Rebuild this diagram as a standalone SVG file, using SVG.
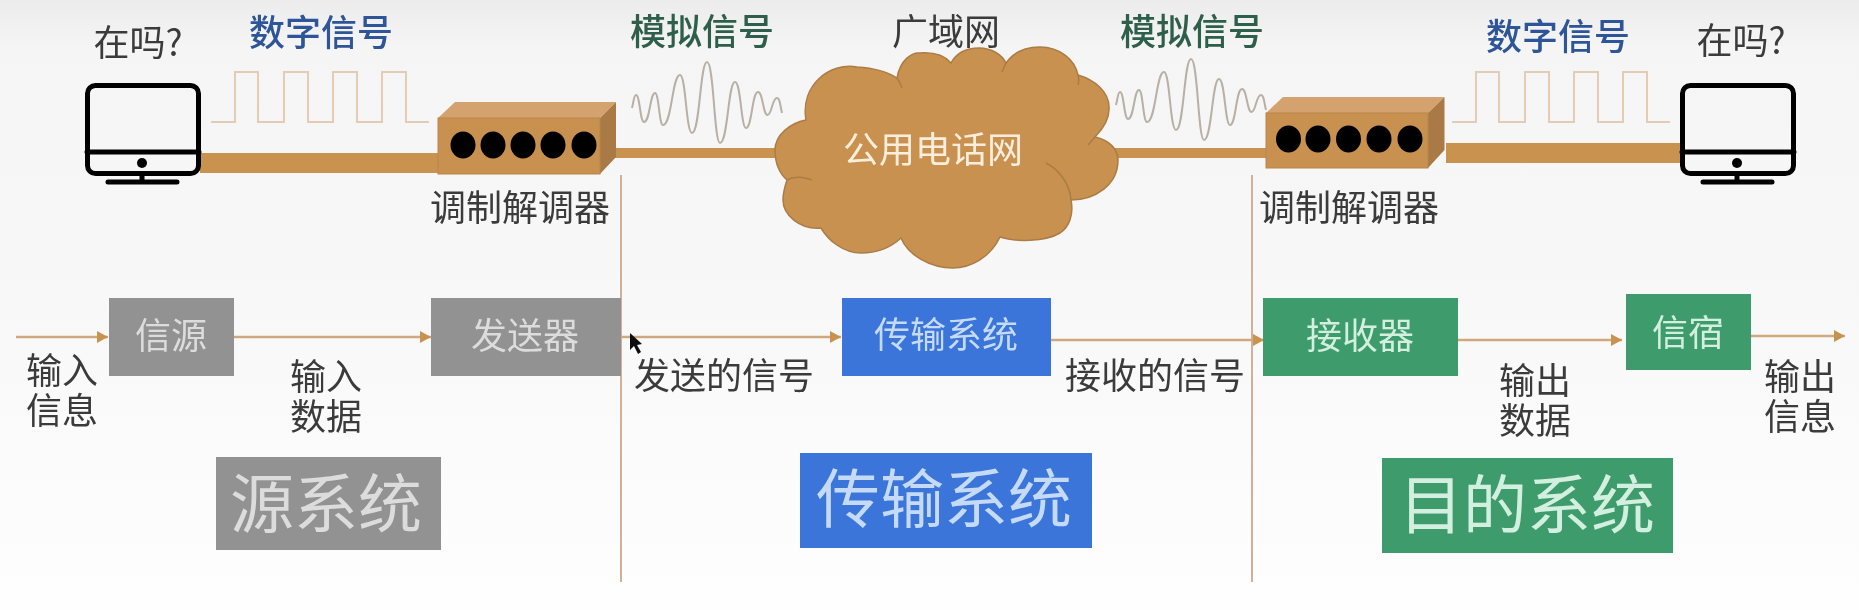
<svg xmlns="http://www.w3.org/2000/svg" xmlns:xlink="http://www.w3.org/1999/xlink" width="1859" height="610" viewBox="0 0 1859 610">
<style>
text{font-family:"Noto Sans CJK SC","Liberation Sans",sans-serif;text-anchor:middle;dominant-baseline:central;font-size:36px;fill:#3a3a3a}
.dig{fill:#2f5597;font-weight:500}
.ana{fill:#2f5f4c;font-weight:500}
.onb{fill:#fbeedd}
.ong{fill:#dcdcdc}
.onbl{fill:#c4daf6}
.ongr{fill:#d2efdf}
.big{font-size:64px}
.gray{fill:#929292}.blue{fill:#3a75d9}.green{fill:#3c9b6c}
.bar{stroke:#c99350;fill:none}
.arrow{stroke:#cfa880;stroke-width:2.5;fill:none;marker-end:url(#ah)}
.sep{stroke:#cdb199;stroke-width:2;fill:none}
.sq{stroke:#e2cdb4;stroke-width:2;fill:none}
.wv{stroke:#b8b0a5;stroke-width:2;fill:none}
.mon{stroke:#000;stroke-width:5;fill:none;stroke-linecap:round}
.front{fill:#c8914f;stroke:#b98648;stroke-width:1}
.top{fill:#d3a26e}.side{fill:#a97a45}
</style>
<defs>
<linearGradient id="bg" x1="0" y1="0" x2="0" y2="1"><stop offset="0" stop-color="#ececec"/><stop offset=".08" stop-color="#f5f5f5"/><stop offset=".5" stop-color="#f8f8f8"/><stop offset="1" stop-color="#fefefe"/></linearGradient>
<filter id="soft" x="0" y="0" width="100%" height="100%"><feGaussianBlur stdDeviation="0.7"/></filter>
<marker id="ah" markerUnits="userSpaceOnUse" markerWidth="12" markerHeight="14" refX="11" refY="7" orient="auto"><path d="M0 1L11 7L0 13Z" fill="#c99350"/></marker>
<g id="monitor"><rect class="mon" x="87.500" y="85.500" width="111" height="88" rx="8"/><path class="mon" d="M87 152H199M142 175V182M108 182H177"/><circle cx="142" cy="163" r="5" fill="#000"/></g>
<path id="square" class="sq" d="M211 122H235V72H258V122H284V72H308V122H333V72H357V122H382V72H406V122H429"/>
<path id="wave" class="wv" d="M632 108C634 100,634 95,636 95C640 95,640 122,644 122C650 122,650 93,655 93C659 93,659 125,663 125C672 125,672 75,680 75C686 75,686 133,692 133C700 133,700 62,707 62C714 62,714 143,720 143C728 143,728 82,735 82C741 82,741 128,746 128C752 128,752 92,758 92C763 92,763 115,767.500 115C772 115,772 98,777 98C780 98,780 105,782 113"/>
</defs>
<rect width="1859" height="610" fill="url(#bg)"/>
<g filter="url(#soft)">
<g id="connectors">
<path class="bar" stroke-width="20" d="M200 163H440"/>
<path class="bar" stroke-width="10" d="M610 153H790"/>
<path class="bar" stroke-width="10" d="M1105 153H1270"/>
<path class="bar" stroke-width="20" d="M1446 153H1682"/>
<path class="sep" d="M621 175V582"/>
<path class="sep" d="M1252 175V582"/>
<path class="arrow" d="M16 337H108"/>
<path class="arrow" d="M234 337H431"/>
<path class="arrow" d="M621 337H841"/>
<path class="arrow" d="M1051 340H1264"/>
<path class="arrow" d="M1458 340H1622"/>
<path class="arrow" d="M1751 336H1845"/>
</g>
<g id="pc-left"><use href="#monitor"/><text x="138" y="40">在吗?</text></g>
<g id="signal-digital-left"><use href="#square"/><text class="dig" x="321" y="30">数字信号</text></g>
<g id="modem-left">
<path class="top" d="M438 118L455 102H616L600 118Z"/><path class="side" d="M600 118L616 102V157L600 174Z"/><rect class="front" x="438" y="118" width="162" height="56"/>
<g fill="#000"><ellipse cx="463" cy="145" rx="12.500" ry="13.500"/><ellipse cx="493" cy="145" rx="12.500" ry="13.500"/><ellipse cx="523" cy="145" rx="12.500" ry="13.500"/><ellipse cx="553" cy="145" rx="12.500" ry="13.500"/><ellipse cx="584" cy="145" rx="12.500" ry="13.500"/></g>
<text x="520" y="205">调制解调器</text></g>
<g id="signal-analog-left"><use href="#wave"/><text class="ana" x="702" y="29">模拟信号</text></g>
<g id="cloud">
<path d="M806 120C800 85,830 62,857 67C872 68,888 72,897 78C900 60,912 52,920 53C935 52,945 56,951 63C958 50,970 48,979 48C992 48,1002 55,1006 63C1015 50,1028 47,1040 47C1060 47,1075 60,1078 75C1095 80,1109 92,1109 107C1110 120,1102 130,1095 137C1110 140,1118 150,1118 160C1118 185,1095 200,1071 200C1074 215,1069 227,1060 233C1045 242,1015 242,1000 237C990 258,970 268,953 268C930 268,908 255,901 238C888 250,875 253,861 253C843 253,828 240,821 228C800 230,783 215,783 200C783 192,785 186,787 180C778 172,775 160,775 150C775 135,790 123,806 120Z" fill="#c8914f" stroke="#ab7c45" stroke-width="1.500"/>
<path d="M1046 163C1060 170,1070 185,1071 200M787 180C795 175,805 178,812 180M897 78C900 82,901 85,902 88M1006 63C1004 67,1003 70,1002 72M1078 75C1079 79,1079 82,1078 85M1095 137C1092 140,1090 143,1088 145" fill="none" stroke="#ab7c45" stroke-width="1.500"/>
<text class="onb" x="933" y="147">公用电话网</text></g>
<g id="wan-label"><text x="946" y="29">广域网</text></g>
<g id="signal-analog-right"><use href="#wave" transform="translate(484 -3)"/><text class="ana" x="1192" y="29">模拟信号</text></g>
<g id="modem-right">
<path class="top" d="M1266 113L1283 97H1444.500L1428 113Z"/><path class="side" d="M1428 113L1444.500 97V150L1428 168Z"/><rect class="front" x="1266" y="113" width="162" height="55"/>
<g fill="#000"><ellipse cx="1288.500" cy="139" rx="12.500" ry="13.500"/><ellipse cx="1318" cy="139" rx="12.500" ry="13.500"/><ellipse cx="1348.500" cy="139" rx="12.500" ry="13.500"/><ellipse cx="1379" cy="139" rx="12.500" ry="13.500"/><ellipse cx="1410" cy="139" rx="12.500" ry="13.500"/></g>
<text x="1349" y="205">调制解调器</text></g>
<g id="signal-digital-right"><use href="#square" transform="translate(1241 0)"/><text class="dig" x="1558" y="34">数字信号</text></g>
<g id="pc-right"><use href="#monitor" transform="translate(1595 0)"/><text x="1741" y="38">在吗?</text></g>
<g id="source"><rect class="gray" x="109" y="298" width="125" height="78"/><text class="ong" x="171" y="333">信源</text></g>
<g id="sender"><rect class="gray" x="431" y="298" width="190" height="78"/><text class="ong" x="525" y="333">发送器</text></g>
<g id="transmit"><rect class="blue" x="842" y="298" width="209" height="78"/><text class="onbl" x="946" y="332">传输系统</text></g>
<g id="receiver"><rect class="green" x="1263" y="298" width="195" height="78"/><text class="ongr" x="1360" y="333">接收器</text></g>
<g id="sink"><rect class="green" x="1626" y="294" width="125" height="76"/><text class="ongr" x="1688" y="330">信宿</text></g>
<g id="labels">
<text x="62" y="368"><tspan x="62">输入</tspan><tspan x="62" dy="40">信息</tspan></text>
<text x="326" y="374"><tspan x="326">输入</tspan><tspan x="326" dy="40">数据</tspan></text>
<text x="724" y="373">发送的信号</text><text x="1155" y="373">接收的信号</text>
<text x="1535" y="378"><tspan x="1535">输出</tspan><tspan x="1535" dy="40">数据</tspan></text>
<text x="1800" y="374"><tspan x="1800">输出</tspan><tspan x="1800" dy="40">信息</tspan></text>
</g>
<g id="system-source"><rect class="gray" x="216" y="457" width="225" height="93"/><text class="ong big" x="326" y="499">源系统</text></g>
<g id="system-transmit"><rect class="blue" x="800" y="453" width="292" height="95"/><text class="onbl big" x="944" y="494">传输系统</text></g>
<g id="system-dest"><rect class="green" x="1382" y="458" width="291" height="95"/><text class="ongr big" x="1527" y="500">目的系统</text></g>
<path id="cursor" d="M630 333V350L634 346L638 354L641 352L637 345L642 344Z" fill="#111"/>
</g>
</svg>
